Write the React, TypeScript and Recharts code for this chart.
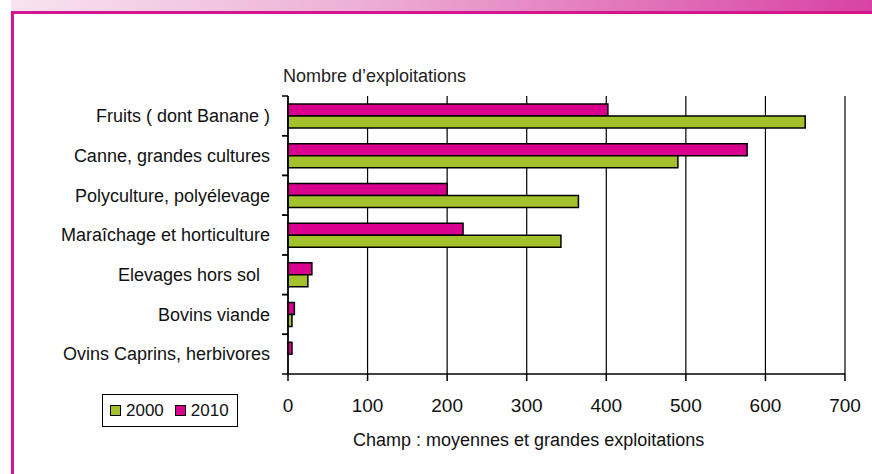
import React from 'react';
import { BarChart, Bar, XAxis, YAxis, CartesianGrid } from 'recharts';

const categories = [
  'Fruits ( dont Banane )',
  'Canne, grandes cultures',
  'Polyculture, polyélevage',
  'Maraîchage et horticulture',
  'Elevages hors sol\u00a0\u00a0',
  'Bovins viande',
  'Ovins Caprins, herbivores',
];
const values2000 = [650, 490, 365, 343, 25, 5, 0];
const values2010 = [402, 577, 200, 220, 30, 8, 5];
const xTicks = [0, 100, 200, 300, 400, 500, 600, 700];

const MAGENTA = '#d9008d';
const GREEN = '#a3c12b';
const FONT = '"Liberation Sans", Arial, sans-serif';
const BAND = 278 / 7;

const data = categories.map((name, i) => ({ name, y2000: values2000[i], y2010: values2010[i] }));

const CategoryTick = (props: any) => {
  const { x, y, payload } = props;
  return (
    <g>
      <line x1={x - 6} x2={x} y1={y - BAND / 2} y2={y - BAND / 2} stroke="#000" strokeWidth={1.5} />
      <line x1={x - 6} x2={x} y1={y + BAND / 2} y2={y + BAND / 2} stroke="#000" strokeWidth={1.5} />
      <text x={x - 18} y={y} dy="0.35em" textAnchor="end" fontSize={18} fill="#111" fontFamily={FONT}>
        {payload.value}
      </text>
    </g>
  );
};

const LegendBox = () => (
  <div
    style={{
      position: 'absolute',
      left: 102,
      top: 394,
      width: 134,
      height: 31,
      border: '1px solid #000',
      display: 'flex',
      alignItems: 'center',
      fontFamily: FONT,
      fontSize: 17,
      color: '#111',
      background: '#fff',
    }}
  >
    <span style={{ width: 9, height: 9, background: GREEN, border: '1px solid #000', marginLeft: 7, marginRight: 5 }} />
    <span>2000</span>
    <span style={{ width: 9, height: 9, background: MAGENTA, border: '1px solid #000', marginLeft: 11, marginRight: 5 }} />
    <span>2010</span>
  </div>
);

const App = () => {
  return (
    <div style={{ position: 'absolute', left: 0, top: 0, width: 872, height: 474, background: '#fff', overflow: 'hidden' }}>
      {/* decorative frame */}
      <div
        style={{
          position: 'absolute',
          left: 11,
          top: 0,
          width: 861,
          height: 11,
          background: 'linear-gradient(to right, #f8e3f0, #edb0d6 40%, #d842a4)',
        }}
      />
      <div style={{ position: 'absolute', left: 11, top: 11, width: 861, height: 3, background: '#d3168f' }} />
      <div style={{ position: 'absolute', left: 11, top: 11, width: 3, height: 463, background: '#d3168f' }} />

      <div
        style={{
          position: 'absolute',
          left: 283,
          top: 67,
          fontFamily: FONT,
          fontSize: 18,
          lineHeight: '18px',
          color: '#222',
        }}
      >
        Nombre d’exploitations
      </div>

      <div style={{ position: 'absolute', left: 0, top: 0 }}>
        <BarChart
          width={872}
          height={474}
          data={data}
          layout="vertical"
          margin={{ top: 96, right: 27, bottom: 60, left: 8 }}
          barSize={12}
          barGap={0}
        >
          <CartesianGrid horizontal={false} stroke="#000" strokeWidth={1.2} />
          <XAxis
            type="number"
            domain={[0, 700]}
            ticks={xTicks}
            interval={0}
            height={40}
            axisLine={{ stroke: '#000', strokeWidth: 1.5 }}
            tickLine={{ stroke: '#000', strokeWidth: 1.5 }}
            tickSize={7}
            tickMargin={18}
            tick={{ fontSize: 19, fill: '#111', fontFamily: FONT }}
          />
          <XAxis
            xAxisId="top"
            orientation="top"
            type="number"
            domain={[0, 700]}
            height={0}
            tick={false}
            tickLine={false}
            axisLine={{ stroke: '#444', strokeWidth: 1.5 }}
          />
          <YAxis
            type="category"
            dataKey="name"
            width={280}
            interval={0}
            axisLine={{ stroke: '#000', strokeWidth: 1.5 }}
            tickLine={false}
            tickSize={0}
            tickMargin={0}
            tick={<CategoryTick />}
          />
          <Bar dataKey="y2010" name="2010" fill={MAGENTA} stroke="#000" strokeWidth={1.5} isAnimationActive={false} />
          <Bar dataKey="y2000" name="2000" fill={GREEN} stroke="#000" strokeWidth={1.5} isAnimationActive={false} />
        </BarChart>
      </div>

      <LegendBox />

      <div
        style={{
          position: 'absolute',
          left: 353,
          top: 431,
          fontFamily: FONT,
          fontSize: 18,
          lineHeight: '18px',
          color: '#111',
          whiteSpace: 'nowrap',
        }}
      >
        Champ : moyennes et grandes exploitations
      </div>
    </div>
  );
};

export default App;
